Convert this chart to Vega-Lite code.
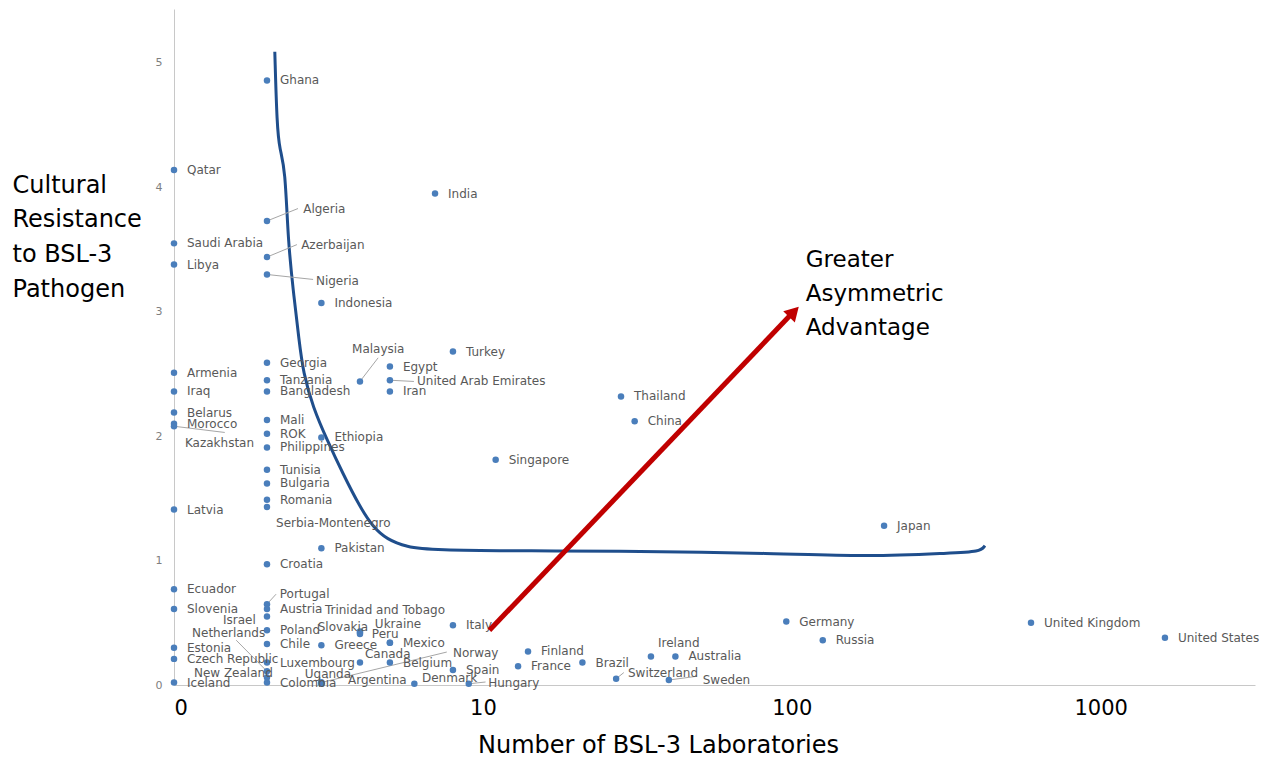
{
  "$schema": "https://vega.github.io/schema/vega-lite/v6.json",
  "width": 1081,
  "height": 676,
  "autosize": {"type": "none"},
  "padding": {"left": 174, "top": 9, "right": 15, "bottom": 72},
  "background": "white",
  "config": {"view": {"stroke": null}, "font": "DejaVu Sans"},
  "datasets": {
    "pts": [
      {"country": "Qatar", "labs": 1, "res": 4.14},
      {"country": "Saudi Arabia", "labs": 1, "res": 3.55},
      {"country": "Libya", "labs": 1, "res": 3.38},
      {"country": "Armenia", "labs": 1, "res": 2.51},
      {"country": "Iraq", "labs": 1, "res": 2.36},
      {"country": "Belarus", "labs": 1, "res": 2.19},
      {"country": "Morocco", "labs": 1, "res": 2.1},
      {"country": "Kazakhstan", "labs": 1, "res": 2.08, "lx": 1.085, "ly": 1.945, "ex": 1.46, "ey": 2.03},
      {"country": "Latvia", "labs": 1, "res": 1.41},
      {"country": "Ecuador", "labs": 1, "res": 0.77},
      {"country": "Slovenia", "labs": 1, "res": 0.61},
      {"country": "Estonia", "labs": 1, "res": 0.3},
      {"country": "Czech Republic", "labs": 1, "res": 0.21},
      {"country": "Iceland", "labs": 1, "res": 0.02},
      {"country": "Ghana", "labs": 2, "res": 4.86},
      {"country": "Algeria", "labs": 2, "res": 3.73, "lx": 2.62, "ly": 3.83, "ex": 2.52, "ey": 3.83},
      {"country": "Azerbaijan", "labs": 2, "res": 3.44, "lx": 2.58, "ly": 3.54, "ex": 2.5, "ey": 3.54},
      {"country": "Nigeria", "labs": 2, "res": 3.3, "lx": 2.88, "ly": 3.25, "ex": 2.82, "ey": 3.26},
      {"country": "Georgia", "labs": 2, "res": 2.59},
      {"country": "Tanzania", "labs": 2, "res": 2.45},
      {"country": "Bangladesh", "labs": 2, "res": 2.36},
      {"country": "Mali", "labs": 2, "res": 2.13},
      {"country": "ROK", "labs": 2, "res": 2.02},
      {"country": "Philippines", "labs": 2, "res": 1.91},
      {"country": "Tunisia", "labs": 2, "res": 1.73},
      {"country": "Bulgaria", "labs": 2, "res": 1.62},
      {"country": "Romania", "labs": 2, "res": 1.49},
      {"country": "Serbia-Montenegro", "labs": 2, "res": 1.43, "lx": 2.14, "ly": 1.3},
      {"country": "Croatia", "labs": 2, "res": 0.97},
      {"country": "Portugal", "labs": 2, "res": 0.65, "lx": 2.2, "ly": 0.73, "ex": 2.14, "ey": 0.73},
      {"country": "Austria", "labs": 2, "res": 0.61},
      {"country": "Israel", "labs": 2, "res": 0.55, "lx": 1.44, "ly": 0.52},
      {"country": "Poland", "labs": 2, "res": 0.44},
      {"country": "Netherlands", "labs": 2, "res": 0.11, "lx": 1.144, "ly": 0.42, "ex": 1.59, "ey": 0.36},
      {"country": "Chile", "labs": 2, "res": 0.33},
      {"country": "Luxembourg", "labs": 2, "res": 0.18},
      {"country": "New Zealand", "labs": 2, "res": 0.06, "lx": 1.16, "ly": 0.1},
      {"country": "Colombia", "labs": 2, "res": 0.02},
      {"country": "Indonesia", "labs": 3, "res": 3.07},
      {"country": "Ethiopia", "labs": 3, "res": 1.99},
      {"country": "Pakistan", "labs": 3, "res": 1.1},
      {"country": "Greece", "labs": 3, "res": 0.32},
      {"country": "Uganda", "labs": 3, "res": 0.02, "lx": 2.65, "ly": 0.09},
      {"country": "Argentina", "labs": 3, "res": 0.01, "lx": 3.66, "ly": 0.04},
      {"country": "Norway", "labs": 3, "res": 0.02, "lx": 8.0, "ly": 0.26, "ex": 7.64, "ey": 0.265},
      {"country": "Malaysia", "labs": 4, "res": 2.44, "lx": 3.77, "ly": 2.7, "ex": 4.58, "ey": 2.63},
      {"country": "Trinidad and Tobago", "labs": 4, "res": 0.43, "lx": 3.08, "ly": 0.6},
      {"country": "Slovakia", "labs": 4, "res": 0.42, "lx": 2.92, "ly": 0.47},
      {"country": "Ukraine", "labs": 4, "res": 0.41, "lx": 4.47, "ly": 0.49},
      {"country": "Canada", "labs": 4, "res": 0.18, "lx": 4.15, "ly": 0.25},
      {"country": "Egypt", "labs": 5, "res": 2.56},
      {"country": "United Arab Emirates", "labs": 5, "res": 2.45, "lx": 6.12, "ly": 2.44, "ex": 5.98, "ey": 2.44},
      {"country": "Iran", "labs": 5, "res": 2.36},
      {"country": "Peru", "labs": 5, "res": 0.34, "lx": 4.37, "ly": 0.41},
      {"country": "Mexico", "labs": 5, "res": 0.34},
      {"country": "Belgium", "labs": 5, "res": 0.18},
      {"country": "Denmark", "labs": 6, "res": 0.01, "lx": 6.35, "ly": 0.06},
      {"country": "India", "labs": 7, "res": 3.95},
      {"country": "Turkey", "labs": 8, "res": 2.68},
      {"country": "Italy", "labs": 8, "res": 0.48},
      {"country": "Spain", "labs": 8, "res": 0.12},
      {"country": "Hungary", "labs": 9, "res": 0.01, "lx": 10.4, "ly": 0.02, "ex": 10.2, "ey": 0.024},
      {"country": "Singapore", "labs": 11, "res": 1.81},
      {"country": "France", "labs": 13, "res": 0.15},
      {"country": "Finland", "labs": 14, "res": 0.27},
      {"country": "Brazil", "labs": 21, "res": 0.18},
      {"country": "Switzerland", "labs": 27, "res": 0.05, "lx": 29.5, "ly": 0.1, "ex": 28.6, "ey": 0.1},
      {"country": "Thailand", "labs": 28, "res": 2.32},
      {"country": "China", "labs": 31, "res": 2.12},
      {"country": "Ireland", "labs": 35, "res": 0.23, "lx": 36.9, "ly": 0.34},
      {"country": "Sweden", "labs": 40, "res": 0.04, "lx": 51.5, "ly": 0.04, "ex": 49.3, "ey": 0.07},
      {"country": "Australia", "labs": 42, "res": 0.23},
      {"country": "Germany", "labs": 96, "res": 0.51},
      {"country": "Russia", "labs": 126, "res": 0.36},
      {"country": "Japan", "labs": 199, "res": 1.28},
      {"country": "United Kingdom", "labs": 595, "res": 0.5},
      {"country": "United States", "labs": 1615, "res": 0.38}
    ],
    "curve": [
      {"i": 0, "labs": 2.12, "res": 5.09},
      {"i": 1, "labs": 2.155, "res": 4.49},
      {"i": 2, "labs": 2.2, "res": 4.3},
      {"i": 3, "labs": 2.29, "res": 4.16},
      {"i": 4, "labs": 2.34, "res": 3.57},
      {"i": 5, "labs": 2.43, "res": 3.18},
      {"i": 6, "labs": 2.54, "res": 2.77},
      {"i": 7, "labs": 2.62, "res": 2.51},
      {"i": 8, "labs": 2.82, "res": 2.23},
      {"i": 9, "labs": 3.13, "res": 1.97},
      {"i": 10, "labs": 3.52, "res": 1.7},
      {"i": 11, "labs": 4.0, "res": 1.43},
      {"i": 12, "labs": 4.41, "res": 1.27},
      {"i": 13, "labs": 4.89, "res": 1.17},
      {"i": 14, "labs": 5.68, "res": 1.11},
      {"i": 15, "labs": 6.74, "res": 1.085},
      {"i": 16, "labs": 15.3, "res": 1.077},
      {"i": 17, "labs": 23.9, "res": 1.077},
      {"i": 18, "labs": 91.6, "res": 1.06},
      {"i": 19, "labs": 179, "res": 1.03},
      {"i": 20, "labs": 325, "res": 1.06},
      {"i": 21, "labs": 407, "res": 1.07},
      {"i": 22, "labs": 422, "res": 1.12}
    ],
    "arrow": [
      {"i": 0, "labs": 10.5, "res": 0.44},
      {"i": 1, "labs": 98.7, "res": 2.97}
    ],
    "head": [{"labs": 101.6, "res": 3.0}],
    "note": [{"labs": 111, "res": 3.36, "text": "Greater\nAsymmetric\nAdvantage"}]
  },
  "layer": [
    {
      "data": {"name": "curve"},
      "mark": {"type": "line", "color": "#1f4e8c", "strokeWidth": 3, "interpolate": "basis"},
      "encoding": {
        "x": {
          "field": "labs", "type": "quantitative",
          "scale": {"type": "log", "domain": [1, 3160], "nice": false},
          "axis": {
            "values": [1, 10, 100, 1000],
            "labelExpr": "datum.value == 1 ? '0' : format(datum.value, 'd')",
            "grid": false, "ticks": false, "domainColor": "#c8c8c8",
            "labelFontSize": 21, "labelColor": "#000000", "labelPadding": 12,
            "title": "Number of BSL-3 Laboratories",
            "titleFontSize": 24, "titleFontWeight": "normal", "titleColor": "#000000",
            "titleX": 484, "titleY": 67, "titleBaseline": "alphabetic", "titleAlign": "center"
          }
        },
        "y": {
          "field": "res", "type": "quantitative",
          "scale": {"domain": [0, 5.434], "nice": false, "zero": false},
          "axis": {
            "values": [0, 1, 2, 3, 4, 5],
            "format": "d",
            "grid": false, "ticks": false, "domainColor": "#c8c8c8",
            "labelFontSize": 11, "labelColor": "#7f7f7f", "labelPadding": 12,
            "title": ["Cultural", "Resistance", "to BSL-3", "Pathogen"],
            "titleAngle": 0, "titleAlign": "left", "titleBaseline": "alphabetic",
            "titleX": -162, "titleY": 183, "titleFontSize": 24, "titleFontWeight": "normal",
            "titleColor": "#000000", "titleLineHeight": 34.7
          }
        },
        "order": {"field": "i"}
      }
    },
    {
      "data": {"name": "pts"},
      "transform": [{"filter": "isValid(datum.ex)"}],
      "mark": {"type": "rule", "color": "#a6a6a6", "strokeWidth": 1},
      "encoding": {
        "x": {"field": "labs", "type": "quantitative"},
        "y": {"field": "res", "type": "quantitative"},
        "x2": {"field": "ex"},
        "y2": {"field": "ey"}
      }
    },
    {
      "data": {"name": "pts"},
      "mark": {"type": "circle", "size": 42, "color": "#4a7ebb", "opacity": 1},
      "encoding": {
        "x": {"field": "labs", "type": "quantitative"},
        "y": {"field": "res", "type": "quantitative"}
      }
    },
    {
      "data": {"name": "pts"},
      "transform": [{"filter": "!isValid(datum.lx)"}],
      "mark": {"type": "text", "align": "left", "baseline": "middle", "dx": 13, "fontSize": 12, "color": "#595959"},
      "encoding": {
        "x": {"field": "labs", "type": "quantitative"},
        "y": {"field": "res", "type": "quantitative"},
        "text": {"field": "country"}
      }
    },
    {
      "data": {"name": "pts"},
      "transform": [{"filter": "isValid(datum.lx)"}],
      "mark": {"type": "text", "align": "left", "baseline": "middle", "fontSize": 12, "color": "#595959"},
      "encoding": {
        "x": {"field": "lx", "type": "quantitative"},
        "y": {"field": "ly", "type": "quantitative"},
        "text": {"field": "country"}
      }
    },
    {
      "data": {"name": "arrow"},
      "mark": {"type": "line", "color": "#c00000", "strokeWidth": 5},
      "encoding": {
        "x": {"field": "labs", "type": "quantitative"},
        "y": {"field": "res", "type": "quantitative"},
        "order": {"field": "i"}
      }
    },
    {
      "data": {"name": "head"},
      "mark": {"type": "point", "shape": "triangle-up", "filled": true, "size": 260, "angle": 44, "color": "#c00000", "opacity": 1},
      "encoding": {
        "x": {"field": "labs", "type": "quantitative"},
        "y": {"field": "res", "type": "quantitative"}
      }
    },
    {
      "data": {"name": "note"},
      "mark": {"type": "text", "align": "left", "baseline": "alphabetic", "fontSize": 23, "lineBreak": "\n", "lineHeight": 34, "color": "#000000"},
      "encoding": {
        "x": {"field": "labs", "type": "quantitative"},
        "y": {"field": "res", "type": "quantitative"},
        "text": {"field": "text"}
      }
    }
  ]
}
